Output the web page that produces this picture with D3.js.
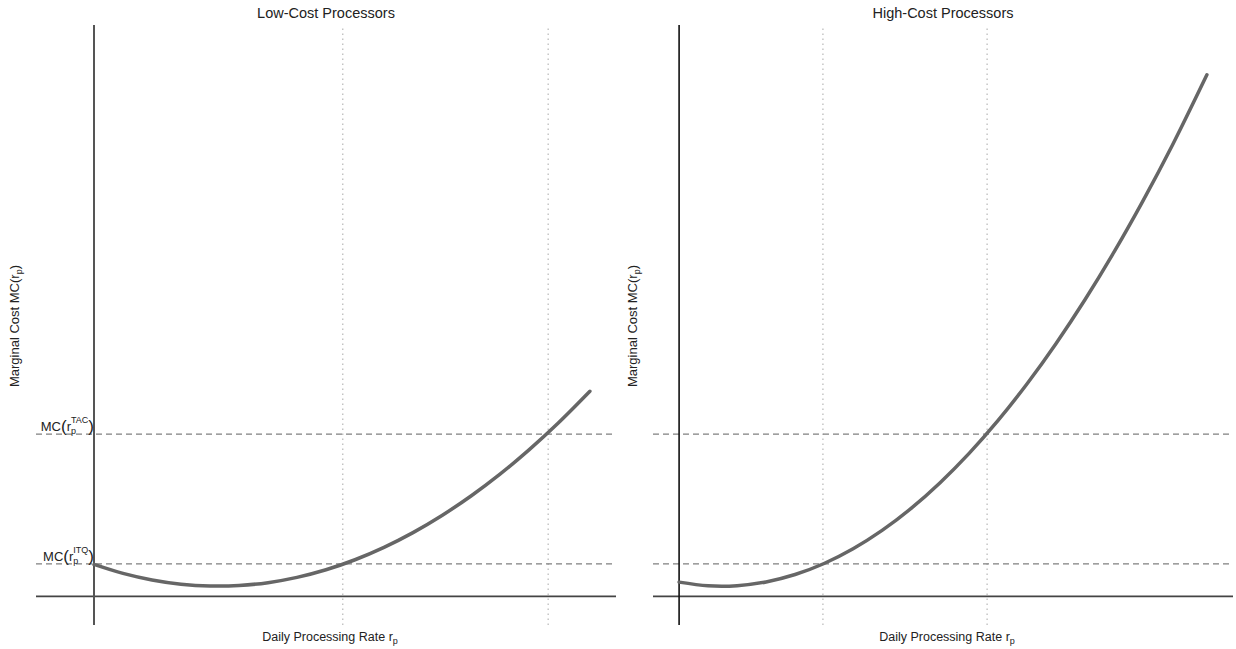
<!DOCTYPE html>
<html>
<head>
<meta charset="utf-8">
<script src="https://cdn.jsdelivr.net/npm/d3@7"></script>
<style>
  html, body { margin: 0; padding: 0; background: #fff; }
  svg { display: block; font-family: "Liberation Sans", Arial, sans-serif; }
</style>
</head>
<body>
<svg id="chart" width="1236" height="649"></svg>
<script>
// Panel titles
const panelTitles = ["Low-Cost Processors", "High-Cost Processors"];

// Marginal cost curves (processing rate r_p, marginal cost)
const lowCostRate = [0, 5, 10, 15, 20, 25, 30, 35, 40, 45, 50, 55, 60, 65, 70, 75, 80, 85.5];
const lowCostMC   = [5.6, 4.03, 2.88, 2.14, 1.82, 1.91, 2.41, 3.34, 4.67, 6.42, 8.59, 11.17, 14.17, 17.58, 21.4, 25.65, 30.3, 35.9];

const highCostRate = [0, 5, 10, 15, 20, 25, 30, 35, 40, 45, 50, 55, 60, 65, 70, 75, 80, 85, 91];
const highCostMC   = [2.5, 1.87, 1.89, 2.54, 3.83, 5.76, 8.34, 11.55, 15.4, 19.9, 25.03, 30.8, 37.22, 44.27, 51.96, 60.29, 69.27, 78.88, 91.3];

// Reference marginal-cost levels
const mcLevels = [5.7, 28.4];          // ITQ, TAC
const mcLevelNames = ["ITQ", "TAC"];

// Processing rates where each curve meets the levels
const lowCostRates  = [42.9, 78.3];
const highCostRates = [24.8, 53.1];

// Axis extents per panel
const lowCostXDomain  = [-10, 90];
const highCostXDomain = [-4.5, 95.5];
const yDomain = [-5, 100];

const svg = d3.select("#chart");

const panels = [
  { title: panelTitles[0], xDomain: lowCostXDomain, range: [36, 616],
    rate: lowCostRate, mc: lowCostMC, rates: lowCostRates,
    yLabelX: 19, levelLabels: true, axisColor: "#555", axisWidth: 2 },
  { title: panelTitles[1], xDomain: highCostXDomain, range: [653, 1233],
    rate: highCostRate, mc: highCostMC, rates: highCostRates,
    yLabelX: 637, levelLabels: false, axisColor: "#111", axisWidth: 1.6 }
];

const y = d3.scaleLinear().domain(yDomain).range([625, 25]);

panels.forEach(p => {
  const x = d3.scaleLinear().domain(p.xDomain).range(p.range);
  const g = svg.append("g");
  const cx = (p.range[0] + p.range[1]) / 2;

  // dotted verticals at the rates
  g.selectAll("line.rate").data(p.rates).join("line")
    .attr("x1", d => x(d)).attr("x2", d => x(d))
    .attr("y1", y(yDomain[0])).attr("y2", y(yDomain[1]))
    .attr("stroke", "#a8a8a8").attr("stroke-width", 1)
    .attr("stroke-dasharray", "1.5,3.5");

  // dashed horizontals at the MC levels
  g.selectAll("line.level").data(mcLevels).join("line")
    .attr("x1", x(p.xDomain[0])).attr("x2", x(p.xDomain[1]))
    .attr("y1", d => y(d)).attr("y2", d => y(d))
    .attr("stroke", "#808080").attr("stroke-width", 1.3)
    .attr("stroke-dasharray", "6,4");

  // x axis (MC = 0)
  g.append("line")
    .attr("x1", x(p.xDomain[0])).attr("x2", x(p.xDomain[1]))
    .attr("y1", y(0)).attr("y2", y(0))
    .attr("stroke", "#444").attr("stroke-width", 1.8);

  // y axis (r = 0)
  g.append("line")
    .attr("x1", x(0)).attr("x2", x(0))
    .attr("y1", y(yDomain[0])).attr("y2", y(yDomain[1]))
    .attr("stroke", p.axisColor).attr("stroke-width", p.axisWidth);

  // marginal cost curve
  const pts = p.rate.map((r, i) => [r, p.mc[i]]);
  g.append("path")
    .datum(pts)
    .attr("fill", "none")
    .attr("stroke", "#666")
    .attr("stroke-width", 3.5)
    .attr("stroke-linecap", "round")
    .attr("d", d3.line().x(d => x(d[0])).y(d => y(d[1])).curve(d3.curveCatmullRom.alpha(0.5)));

  // title
  g.append("text")
    .attr("x", cx).attr("y", 18)
    .attr("text-anchor", "middle")
    .attr("font-size", 14.5).attr("fill", "#222")
    .text(p.title);

  // x axis label
  const xl = g.append("text")
    .attr("x", cx + 4).attr("y", 641)
    .attr("text-anchor", "middle")
    .attr("font-size", 12.5).attr("fill", "#222");
  xl.append("tspan").text("Daily Processing Rate r");
  xl.append("tspan").attr("font-size", 9).attr("dy", 3).text("p");

  // y axis label
  const yl = g.append("text")
    .attr("transform", `translate(${p.yLabelX},${326}) rotate(-90)`)
    .attr("text-anchor", "middle")
    .attr("font-size", 13).attr("fill", "#222");
  yl.append("tspan").text("Marginal Cost MC(r");
  yl.append("tspan").attr("font-size", 9).attr("dy", 3).text("p");
  yl.append("tspan").attr("dy", -3).text(")");

  // level labels on the left panel: MC(r_p^NAME)
  if (p.levelLabels) {
    mcLevels.forEach((lv, i) => {
      const base = y(lv) - 3;
      const lg = g.append("g");
      const head = lg.append("text").attr("y", base).attr("font-size", 13).attr("fill", "#222");
      head.append("tspan").text("MC");
      head.append("tspan").attr("font-size", 17).attr("dy", 1).text("(");
      head.append("tspan").attr("font-size", 13).attr("dy", -1).text("r");
      const headW = head.node().getComputedTextLength();

      const sup = lg.append("text").attr("x", headW).attr("y", base - 8)
        .attr("font-size", 9).attr("fill", "#222").text(mcLevelNames[i]);
      const sub = lg.append("text").attr("x", headW).attr("y", base + 3)
        .attr("font-size", 9).attr("fill", "#222").text("p");
      const scriptW = Math.max(sup.node().getComputedTextLength(), sub.node().getComputedTextLength());

      const close = lg.append("text").attr("x", headW + scriptW).attr("y", base + 1)
        .attr("font-size", 17).attr("fill", "#222").text(")");
      const totalW = headW + scriptW + close.node().getComputedTextLength();
      lg.attr("transform", `translate(${x(0) - totalW},0)`);
    });
  }
});
</script>
</body>
</html>
